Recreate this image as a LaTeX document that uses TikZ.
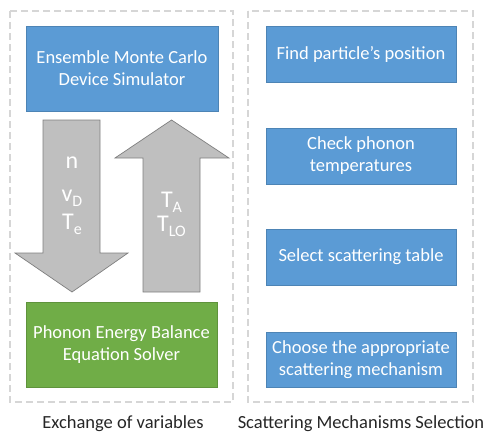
\documentclass[tikz,border=0pt]{standalone}
\usepackage{fontspec}
\setmainfont{Carlito}
\definecolor{boxblue}{HTML}{5B9BD5}
\definecolor{boxgreen}{HTML}{70AD47}
\definecolor{arrgray}{HTML}{BFBFBF}
\definecolor{arredge}{HTML}{7F7F7F}
\definecolor{framegray}{HTML}{D6D6D6}
\definecolor{labeltext}{HTML}{262626}
\newcommand\mysub[1]{\raisebox{-0.22em}{\fontsize{16}{16}\selectfont #1}}
\begin{document}
\begin{tikzpicture}[x=1pt,y=-1pt,
  frame/.style={draw=framegray,line width=1.1pt,dash pattern=on 7pt off 4pt},
  bluebox/.style={fill=boxblue,draw=boxblue!85!black,line width=0.4pt},
  greenbox/.style={fill=boxgreen,draw=boxgreen!85!black,line width=0.4pt},
  boxtext/.style={text=white,align=center,font=\fontsize{18.5}{22}\selectfont,inner sep=0pt},
  arrowshape/.style={fill=arrgray,draw=arredge,line width=0.7pt,line join=miter},
  arrtext/.style={text=white,align=center,font=\fontsize{24}{28}\selectfont,inner sep=0pt},
  caption/.style={text=labeltext,font=\fontsize{18.5}{22}\selectfont,inner sep=0pt}]
\useasboundingbox (0,0) rectangle (490,439);
% frames
\draw[frame] (10,11) rectangle (233,402);
\draw[frame] (248,11) rectangle (473,402);
% left column boxes
\draw[bluebox] (26,26) rectangle (218,111);
\node[boxtext] (emc) at (122,68.5) {Ensemble Monte Carlo\\Device Simulator};
\draw[greenbox] (26,302) rectangle (217,387);
\node[boxtext] (peb) at (121.5,344.5) {Phonon Energy Balance\\Equation Solver};
% arrows
\draw[arrowshape] (43,120) -- (100,120) -- (100,253) -- (128,253) -- (72,292) -- (15,253) -- (43,253) -- cycle;
\draw[arrowshape] (143,292) -- (200,292) -- (200,158) -- (229,158) -- (171.5,120) -- (115,158) -- (143,158) -- cycle;
\node[arrtext,anchor=base] (tn) at (72,168) {n};
\node[arrtext,anchor=base] (tv) at (72,201) {v\mysub{D}};
\node[arrtext,anchor=base] (tte) at (72,229) {T\mysub{e}};
\node[arrtext,anchor=base] (tta) at (171.5,207) {T\mysub{A}};
\node[arrtext,anchor=base] (ttlo) at (171.5,231) {T\mysub{LO}};
% right column boxes
\draw[bluebox] (266,26) rectangle (456,82);
\node[boxtext] (b1) at (361,54) {Find particle’s position};
\draw[bluebox] (266,128) rectangle (456,184);
\node[boxtext] (b2) at (361,156) {Check phonon\\temperatures};
\draw[bluebox] (266,229) rectangle (456,285);
\node[boxtext] (b3) at (361,257) {Select scattering table};
\draw[bluebox] (266,332) rectangle (456,387);
\node[boxtext] (b4) at (361,359.5) {Choose the appropriate\\scattering mechanism};
% captions
\node[caption,anchor=base] (c1) at (123,428) {Exchange of variables};
\node[caption,anchor=base] (c2) at (361,428) {Scattering Mechanisms Selection};
\end{tikzpicture}
\end{document}
